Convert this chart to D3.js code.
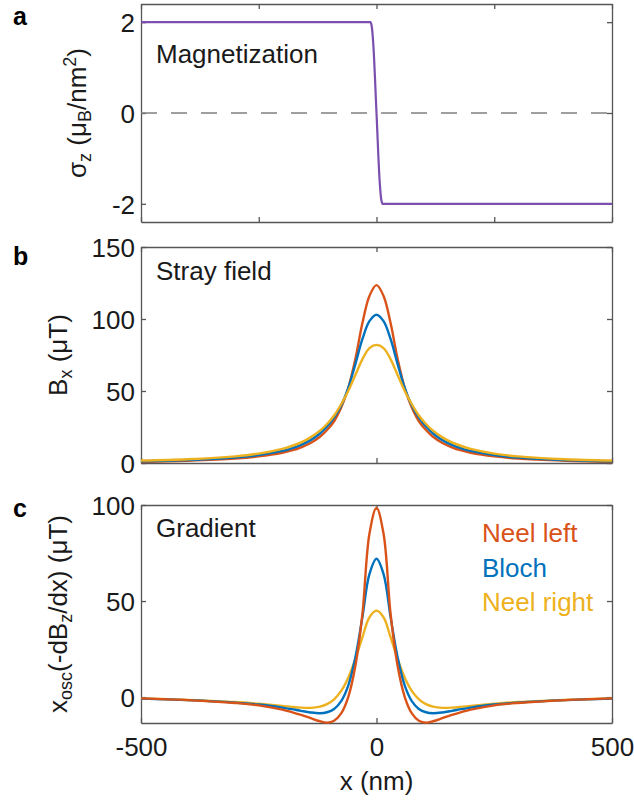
<!DOCTYPE html>
<html>
<head>
<meta charset="utf-8">
<script src="https://cdn.jsdelivr.net/npm/d3@7"></script>
<style>
  body { margin: 0; background: #fff; }
  svg { display: block; }
  text { font-family: "Liberation Sans", Arial, Helvetica, sans-serif; }
</style>
</head>
<body>
<svg id="chart" width="634" height="804"></svg>
<script>
// ---------- data ----------
// (a) out-of-plane magnetization across the domain wall
const magX     = [-500, -13, -10, -7, 0, 7, 10, 13, 500];
const magSigma = [2, 2, 1.9, 1.55, 0, -1.55, -1.9, -2, -2];

// common x sampling (nm) for panels b and c
const xNm = [-500, -400, -300, -250, -200, -180, -160, -140, -120, -105, -90, -75, -60, -45, -30, -15, 0,
             15, 30, 45, 60, 75, 90, 105, 120, 140, 160, 180, 200, 250, 300, 400, 500];

// (b) stray field B_x (uT)
const strayNeelLeft  = [0.7, 1.6, 3.1, 4.6, 7.1, 8.7, 10.9, 13.9, 18.2, 22.9, 29.0, 38.5, 52.0, 72.0, 97.0, 116.0, 123.5,
                        116.0, 97.0, 72.0, 52.0, 38.5, 29.0, 22.9, 18.2, 13.9, 10.9, 8.7, 7.1, 4.6, 3.1, 1.6, 0.7];
const strayBloch     = [1.2, 2.1, 3.8, 5.5, 8.4, 10.2, 12.6, 15.9, 20.5, 25.3, 31.6, 40.0, 52.0, 68.5, 86.0, 98.5, 103.0,
                        98.5, 86.0, 68.5, 52.0, 40.0, 31.6, 25.3, 20.5, 15.9, 12.6, 10.2, 8.4, 5.5, 3.8, 2.1, 1.2];
const strayNeelRight = [1.7, 2.6, 4.6, 6.5, 9.8, 11.8, 14.3, 17.8, 22.5, 27.1, 33.0, 40.8, 50.0, 61.0, 72.0, 79.8, 82.0,
                        79.8, 72.0, 61.0, 50.0, 40.8, 33.0, 27.1, 22.5, 17.8, 14.3, 11.8, 9.8, 6.5, 4.6, 2.6, 1.7];

// (c) gradient x_osc(-dBz/dx) (uT)
const gradNeelLeft  = [-0.7, -1.6, -3.1, -4.3, -6.5, -7.8, -9.3, -11.0, -12.6, -13.3, -12.3, -8.5, 0.0, 16.0, 43.0, 85.0, 98.5,
                       85.0, 43.0, 16.0, 0.0, -8.5, -12.3, -13.3, -12.6, -11.0, -9.3, -7.8, -6.5, -4.3, -3.1, -1.6, -0.7];
const gradBloch     = [-0.8, -1.6, -2.9, -3.9, -5.5, -6.3, -7.2, -8.0, -8.4, -7.9, -6.2, -2.1, 6.0, 20.5, 41.5, 64.0, 72.0,
                       64.0, 41.5, 20.5, 6.0, -2.1, -6.2, -7.9, -8.4, -8.0, -7.2, -6.3, -5.5, -3.9, -2.9, -1.6, -0.8];
const gradNeelRight = [-0.7, -1.5, -2.6, -3.5, -4.6, -5.1, -5.5, -5.6, -5.0, -3.7, -1.2, 3.2, 10.1, 19.8, 31.1, 41.5, 45.0,
                       41.5, 31.1, 19.8, 10.1, 3.2, -1.2, -3.7, -5.0, -5.6, -5.5, -5.1, -4.6, -3.5, -2.6, -1.5, -0.7];

const seriesNames = ["Neel left", "Bloch", "Neel right"];

// tick values
const xTickLabels = [-500, 0, 500];
const xTicksA = [-500, -250, 0, 250, 500];
const yTicksA = [-2, 0, 2];
const yTicksB = [0, 50, 100, 150];
const yTicksC = [0, 50, 100];

// ---------- styling ----------
const colors = { "Neel left": "#D95319", "Bloch": "#0072BD", "Neel right": "#EDB120" };
const purple = "#7b4fad";
const axisColor = "#555555";
const textColor = "#1a1a1a";
const FS = 26;

const svg = d3.select("#chart");
const x = d3.scaleLinear().domain([-500, 500]).range([141, 612]);

function panel(top, bottom, yDomain, yTicks, xTicks, showXLabels) {
  const y = d3.scaleLinear().domain(yDomain).range([bottom, top]);
  const g = svg.append("g");
  const fmt = d => String(d);

  const bottomAxis = d3.axisBottom(x).tickValues(xTicks).tickSizeInner(-5).tickSizeOuter(0)
    .tickPadding(15).tickFormat(showXLabels ? fmt : () => "");
  const topAxis = d3.axisTop(x).tickValues(xTicks).tickSizeInner(-5).tickSizeOuter(0).tickFormat(() => "");
  const leftAxis = d3.axisLeft(y).tickValues(yTicks).tickSizeInner(-5).tickSizeOuter(0)
    .tickPadding(6).tickFormat(fmt);
  const rightAxis = d3.axisRight(y).tickValues(yTicks).tickSizeInner(-5).tickSizeOuter(0).tickFormat(() => "");

  const axes = [
    g.append("g").attr("transform", `translate(0,${bottom})`).call(bottomAxis),
    g.append("g").attr("transform", `translate(0,${top})`).call(topAxis),
    g.append("g").attr("transform", `translate(${x.range()[0]},0)`).call(leftAxis),
    g.append("g").attr("transform", `translate(${x.range()[1]},0)`).call(rightAxis)
  ];
  axes.forEach(a => {
    a.select(".domain").attr("stroke", axisColor).attr("stroke-width", 1.3);
    a.selectAll(".tick line").attr("stroke", axisColor).attr("stroke-width", 1.3);
    a.selectAll(".tick text").attr("font-size", FS).style("fill", textColor)
      .style("font-family", '"Liberation Sans", Arial, sans-serif');
  });
  axes[2].selectAll(".tick text").attr("dy", "0.36em");
  return { g, y };
}

function drawSeries(p, values, color, width) {
  const line = d3.line()
    .x(d => x(d[0])).y(d => p.y(d[1]))
    .curve(d3.curveCatmullRom.alpha(0.5));
  p.g.append("path")
    .datum(d3.zip(xNm, values))
    .attr("d", line)
    .attr("fill", "none")
    .attr("stroke", color)
    .attr("stroke-width", width)
    .attr("stroke-linejoin", "round");
}

function yLabel(xPos, yPos, parts) {
  const t = svg.append("text")
    .attr("transform", `translate(${xPos},${yPos}) rotate(-90)`)
    .attr("text-anchor", "middle")
    .attr("font-size", FS)
    .style("fill", textColor);
  let shift = 0;
  parts.forEach(([str, kind]) => {
    const target = kind === "sub" ? 5 : kind === "sup" ? -10 : 0;
    t.append("tspan")
      .attr("dy", target - shift)
      .attr("font-size", kind ? 18 : FS)
      .text(str);
    shift = target;
  });
}

function plainText(str, xPos, yPos, color) {
  return svg.append("text").attr("x", xPos).attr("y", yPos)
    .attr("font-size", FS).style("fill", color || textColor).text(str);
}

function panelLetter(str, yPos) {
  svg.append("text").attr("x", 13).attr("y", yPos)
    .attr("font-size", 25).attr("font-weight", "bold").style("fill", "#000").text(str);
}

// ---------- panel a ----------
const pa = panel(4, 222, [-2.4, 2.4], yTicksA, xTicksA, false);
pa.g.append("line")
  .attr("x1", x(-500)).attr("x2", x(500))
  .attr("y1", pa.y(0)).attr("y2", pa.y(0))
  .attr("stroke", "#808080").attr("stroke-width", 1.5)
  .attr("stroke-dasharray", "16,14");
pa.g.append("path")
  .datum(d3.zip(magX, magSigma))
  .attr("d", d3.line().x(d => x(d[0])).y(d => pa.y(d[1])).curve(d3.curveMonotoneX))
  .attr("fill", "none").attr("stroke", purple).attr("stroke-width", 2.2);
plainText("Magnetization", 156, 63);
panelLetter("a", 25);
yLabel(86, 113, [["σ"], ["z", "sub"], [" (μ"], ["B", "sub"], ["/nm"], ["2", "sup"], [")"]]);

// ---------- panel b ----------
const pb = panel(247, 463, [0, 150], yTicksB, xTickLabels, false);
drawSeries(pb, strayNeelLeft, colors["Neel left"], 2.4);
drawSeries(pb, strayBloch, colors["Bloch"], 2.4);
drawSeries(pb, strayNeelRight, colors["Neel right"], 2.4);
plainText("Stray field", 156, 280);
panelLetter("b", 265);
yLabel(67, 355, [["B"], ["x", "sub"], [" (μT)"]]);

// ---------- panel c ----------
const pc = panel(505, 723, [-13.5, 100], yTicksC, xTickLabels, true);
drawSeries(pc, gradNeelRight, colors["Neel right"], 2.4);
drawSeries(pc, gradBloch, colors["Bloch"], 2.4);
drawSeries(pc, gradNeelLeft, colors["Neel left"], 2.4);
plainText("Gradient", 156, 537);
panelLetter("c", 517);
yLabel(67, 614, [["x"], ["osc", "sub"], ["(-dB"], ["z", "sub"], ["/dx) (μT)"]]);

// legend
seriesNames.forEach((name, i) => {
  plainText(name, 482, 542 + i * 34.5, colors[name]);
});

// x-axis title
plainText("x (nm)", x(0), 790).attr("text-anchor", "middle");
</script>
</body>
</html>
